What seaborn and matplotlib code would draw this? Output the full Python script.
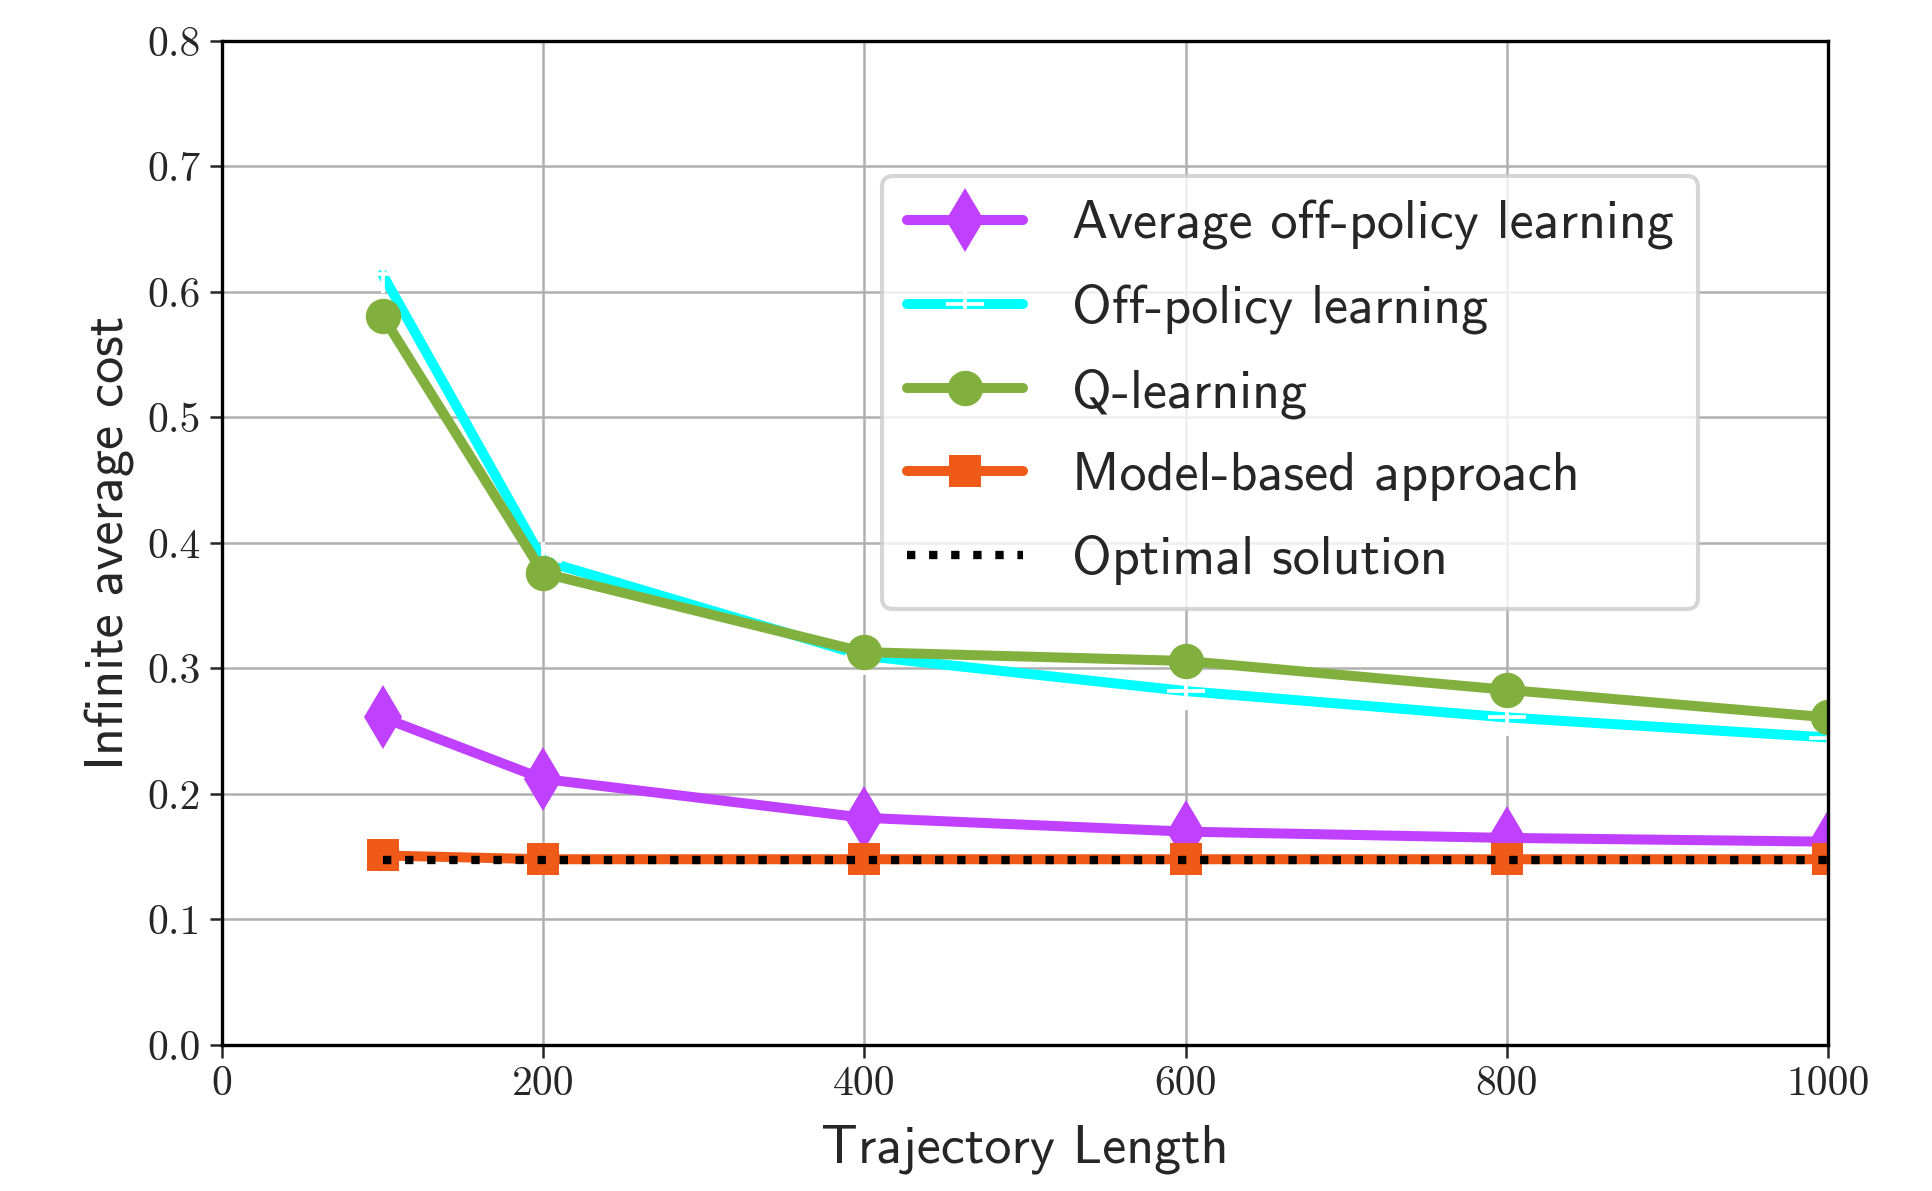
import matplotlib
matplotlib.use("Agg")
import matplotlib.pyplot as plt
import pandas as pd
import seaborn as sns

# trajectory lengths on the x axis
traj_len = [100, 200, 400, 600, 800, 1000]

avg_off_policy = [0.261, 0.212, 0.181, 0.170, 0.165, 0.162]
off_policy = [0.614, 0.386, 0.310, 0.282, 0.261, 0.245]
q_learning = [0.581, 0.376, 0.313, 0.306, 0.283, 0.261]
model_based = [0.151, 0.148, 0.148, 0.148, 0.148, 0.148]
optimal = [0.147, 0.147, 0.147, 0.147, 0.147, 0.147]

x_ticks = [0, 200, 400, 600, 800, 1000]
y_ticks = [0.0, 0.1, 0.2, 0.3, 0.4, 0.5, 0.6, 0.7, 0.8]

sns.set_style("ticks")
plt.rcParams["axes.formatter.use_mathtext"] = True
plt.rcParams["mathtext.fontset"] = "cm"

fig = plt.figure(figsize=(6.443, 3.97), dpi=300)
ax = fig.add_axes([0.1148, 0.1226, 0.8309, 0.843])

df = pd.DataFrame({"x": traj_len, "avg": avg_off_policy, "off": off_policy,
                   "q": q_learning, "model": model_based, "opt": optimal})

sns.lineplot(data=df, x="x", y="avg", ax=ax, color="#c040ff", lw=2.4,
             marker="d", ms=11, mew=0, label="Average off-policy learning")
sns.lineplot(data=df, x="x", y="off", ax=ax, color="#00ffff", lw=2.4,
             marker="+", ms=9, mew=0.9, label="Off-policy learning")
sns.lineplot(data=df, x="x", y="q", ax=ax, color="#82b03e", lw=2.4,
             marker="o", ms=8.5, mew=0, label="Q-learning")
sns.lineplot(data=df, x="x", y="model", ax=ax, color="#f05a18", lw=2.4,
             marker="s", ms=7.5, mew=0, label="Model-based approach")
sns.lineplot(data=df, x="x", y="opt", ax=ax, color="black", lw=2.0,
             linestyle=":", label="Optimal solution")

ax.set_xlim(0, 1000)
ax.set_ylim(0, 0.8)
ax.set_xticks(x_ticks)
ax.set_yticks(y_ticks)
ax.set_xticklabels([str(t) for t in x_ticks], fontfamily="cmr10", fontsize=10)
ax.set_yticklabels(["%.1f" % t for t in y_ticks], fontfamily="cmr10", fontsize=10)
ax.grid(True, color="#b0b0b0", lw=0.6)
ax.set_axisbelow(True)
for s in ax.spines.values():
    s.set_visible(True)
    s.set_color("black")
    s.set_linewidth(0.8)
ax.tick_params(length=3, width=0.6, pad=2)

ax.set_xlabel("Trajectory Length", fontfamily="cmss10", fontsize=13, labelpad=5)
ax.set_ylabel("Infinite average cost", fontfamily="cmss10", fontsize=13, labelpad=3)

leg = ax.legend(loc="upper right", bbox_to_anchor=(0.919, 0.8655),
                borderaxespad=0, prop={"family": "cmss10", "size": 13},
                handlelength=2.15, handletextpad=0.9, labelspacing=0.62,
                borderpad=0.45, framealpha=0.8, edgecolor="#cccccc", fancybox=True)

fig.savefig("out.png", dpi=300)
